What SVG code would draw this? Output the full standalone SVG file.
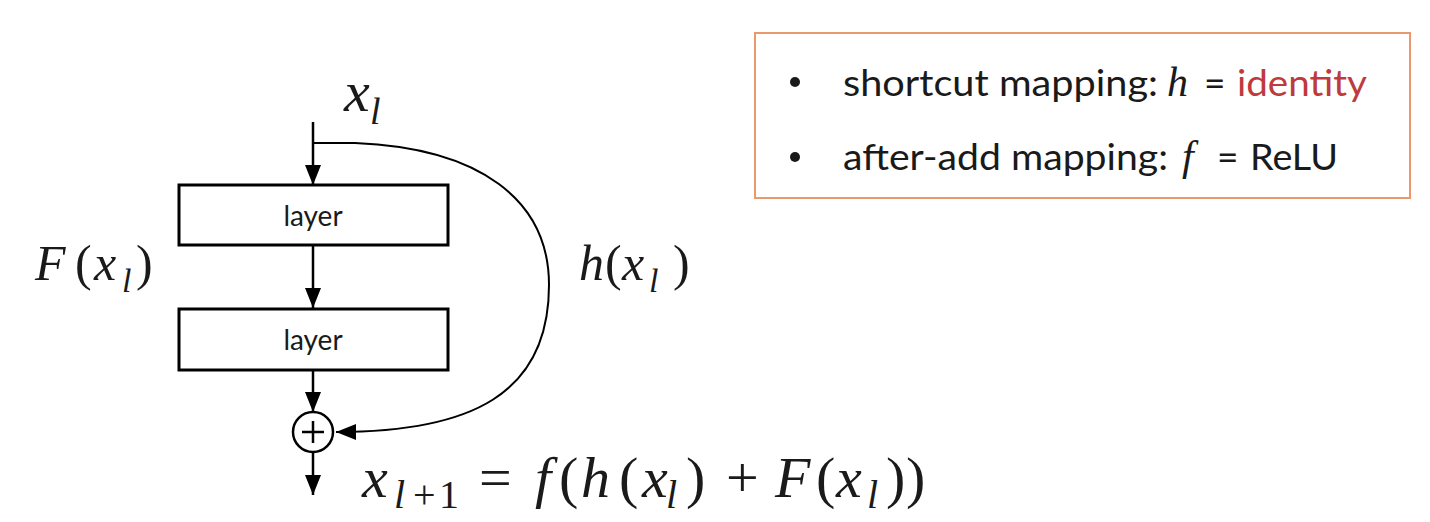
<svg xmlns="http://www.w3.org/2000/svg" width="1430" height="522" viewBox="0 0 1430 522">
<style>
.m{font-family:"Liberation Serif","DejaVu Serif",serif;font-style:italic;fill:#1a1a1a}
.u{font-family:"Liberation Serif","DejaVu Serif",serif;fill:#1a1a1a}
.lbl{font-family:Lato,"Open Sans","Liberation Sans",sans-serif;fill:#1a1a1a}
.box{fill:#fff;stroke:#000;stroke-width:3}
.ln{fill:none;stroke:#000;stroke-width:2.5}
</style>
<defs>
<marker id="ah" markerUnits="userSpaceOnUse" markerWidth="20" markerHeight="16" viewBox="0 0 20 16" refX="20" refY="8" orient="auto">
<path d="M0,0 L20,8 L0,16 Z" fill="#000"/>
</marker>
</defs>
<rect width="1430" height="522" fill="#fff"/>
<g id="connectors">
<line class="ln" x1="313" y1="122" x2="313" y2="185" marker-end="url(#ah)"/>
<line class="ln" x1="313" y1="246" x2="313" y2="308" marker-end="url(#ah)"/>
<line class="ln" x1="313" y1="371" x2="313" y2="412" marker-end="url(#ah)"/>
<line class="ln" x1="313" y1="453" x2="313" y2="495" marker-end="url(#ah)"/>
<path fill="none" stroke="#000" stroke-width="2" d="M313,143 H355 C480,148 549,200 549,285 C549,395 470,432 336,432" marker-end="url(#ah)"/>
</g>
<g id="layer1">
<rect class="box" x="179" y="185" width="269" height="60"/>
<text class="lbl" x="313" y="226" font-size="28" text-anchor="middle">layer</text>
</g>
<g id="layer2">
<rect class="box" x="179" y="309" width="269" height="61"/>
<text class="lbl" x="313" y="350" font-size="28" text-anchor="middle">layer</text>
</g>
<g id="add">
<circle cx="313" cy="432" r="20" fill="#fff" stroke="#000" stroke-width="2.5"/>
<line x1="302" y1="432" x2="324" y2="432" stroke="#000" stroke-width="2.5"/>
<line x1="313" y1="421" x2="313" y2="443" stroke="#000" stroke-width="2.5"/>
</g>
<g id="xl">
<text class="m" x="344" y="111" font-size="58">x</text>
<text class="m" x="370" y="124" font-size="38">l</text>
</g>
<g id="Fxl">
<text class="m" x="35" y="280" font-size="50">F</text>
<text class="u" x="75" y="280" font-size="50">(</text>
<text class="m" x="94" y="280" font-size="50">x</text>
<text class="m" x="122" y="292" font-size="34">l</text>
<text class="u" x="136" y="280" font-size="50">)</text>
</g>
<g id="hxl">
<text class="m" x="579" y="280" font-size="50">h</text>
<text class="u" x="605" y="280" font-size="50">(</text>
<text class="m" x="622" y="280" font-size="50">x</text>
<text class="m" x="649" y="292" font-size="34">l</text>
<text class="u" x="673" y="280" font-size="50">)</text>
</g>
<g id="equation">
<text class="m" x="362" y="497" font-size="58">x</text>
<text class="m" x="394" y="508" font-size="40">l</text>
<text class="u" x="413" y="508" font-size="40">+</text>
<text class="u" x="439" y="508" font-size="40">1</text>
<text class="u" x="479" y="497" font-size="58">=</text>
<text class="m" x="535" y="497" font-size="58">f</text>
<text class="u" x="559" y="497" font-size="58">(</text>
<text class="m" x="581" y="497" font-size="58">h</text>
<text class="u" x="619" y="497" font-size="58">(</text>
<text class="m" x="642" y="497" font-size="58">x</text>
<text class="m" x="666" y="508" font-size="40">l</text>
<text class="u" x="686" y="497" font-size="58">)</text>
<text class="u" x="726" y="497" font-size="58">+</text>
<text class="m" x="775" y="497" font-size="58">F</text>
<text class="u" x="816" y="497" font-size="58">(</text>
<text class="m" x="836" y="497" font-size="58">x</text>
<text class="m" x="867" y="508" font-size="40">l</text>
<text class="u" x="886" y="497" font-size="58">)</text>
<text class="u" x="906" y="497" font-size="58">)</text>
</g>
<g id="legend">
<rect x="755" y="33" width="655" height="165" fill="#fff" stroke="#E9996B" stroke-width="2"/>
<circle cx="795" cy="82" r="5" fill="#1a1a1a"/>
<circle cx="795" cy="157" r="5" fill="#1a1a1a"/>
<text class="lbl" x="843" y="96" font-size="37" textLength="315" lengthAdjust="spacingAndGlyphs">shortcut mapping:</text>
<text class="m" x="1167" y="96" font-size="42">h</text>
<text class="lbl" x="1204" y="96" font-size="37">=</text>
<text class="lbl" x="1237" y="96" font-size="37" style="fill:#BE3A3C" textLength="130" lengthAdjust="spacingAndGlyphs">identity</text>
<text class="lbl" x="843" y="170" font-size="37" textLength="325" lengthAdjust="spacingAndGlyphs">after-add mapping:</text>
<text class="m" x="1182" y="170" font-size="42">f</text>
<text class="lbl" x="1217" y="170" font-size="37">=</text>
<text class="lbl" x="1250" y="170" font-size="37" textLength="88" lengthAdjust="spacingAndGlyphs">ReLU</text>
</g>
</svg>
